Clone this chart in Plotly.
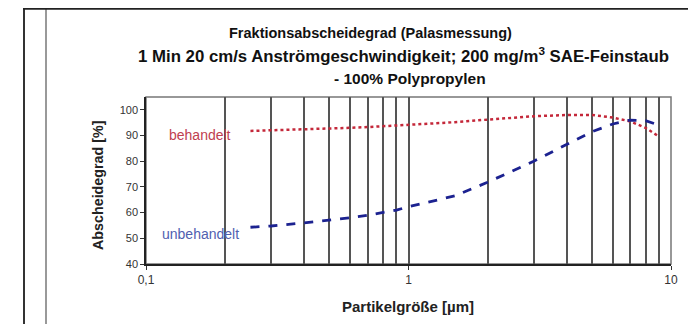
import plotly.graph_objects as go

# Data
particle_size = [0.25, 0.3, 0.4, 0.5, 0.6, 0.7, 0.8, 0.9, 1, 1.5, 2, 3, 4, 5, 6, 7, 8, 9]
behandelt = [91.8, 92.0, 92.4, 92.7, 93.0, 93.3, 93.6, 93.9, 94.2, 95.2, 96.2, 97.5, 98.0, 98.0, 97.0, 95.5, 93.0, 89.6]
unbehandelt = [54.3, 54.8, 56.0, 57.0, 58.0, 59.0, 60.0, 61.0, 62.3, 66.5, 71.8, 80.0, 86.5, 91.5, 94.5, 96.0, 95.8, 94.0]
x_tick_vals = [0.1, 1, 10]
x_tick_text = ["0,1", "1", "10"]
x_grid_vals = [0.2, 0.3, 0.4, 0.5, 0.6, 0.7, 0.8, 0.9, 2, 3, 4, 5, 6, 7, 8, 9]
y_tick_vals = [40, 50, 60, 70, 80, 90, 100]

# page has an 8px body margin; work in page pixel coords and convert
OFF = 8
W, H = 696 - OFF, 324 - OFF
L, R, T, B = 146 - OFF, 696 - 671, 97 - OFF, 324 - 264
PW, PH = W - L - R, H - T - B

def px(x):
    return (x - OFF - L) / PW

def py(y):
    return (H - B - (y - OFF)) / PH

FONT = "Liberation Sans, Arial, sans-serif"

fig = go.Figure()
fig.add_trace(go.Scatter(x=particle_size, y=behandelt, mode="lines",
                         line=dict(color="#c4283a", width=2.5, dash="dot"),
                         showlegend=False))
fig.add_trace(go.Scatter(x=particle_size, y=unbehandelt, mode="lines",
                         line=dict(color="#1c2290", width=2.8, dash="dash"),
                         showlegend=False))

fig.update_layout(
    width=W, height=H,
    margin=dict(l=L, r=R, t=T, b=B, autoexpand=False),
    paper_bgcolor="white", plot_bgcolor="white",
    font=dict(family=FONT, color="#222"),
    xaxis=dict(type="log", range=[-1, 1], tickvals=x_tick_vals, ticktext=x_tick_text,
               automargin=False,
               showgrid=True, gridcolor="#555", gridwidth=1.5,
               ticks="outside", ticklen=4, tickcolor="#333",
               showline=True, linecolor="#222", linewidth=1.5,
               tickfont=dict(size=12, color="#333"),
               minor=dict(tickvals=x_grid_vals, showgrid=True, gridcolor="#555", gridwidth=1.5, ticks=""),
               zeroline=False),
    yaxis=dict(range=[40, 105], tickvals=y_tick_vals, showgrid=False,
               automargin=False,
               ticks="outside", ticklen=4, tickcolor="#333",
               showline=True, linecolor="#222", linewidth=1.5,
               tickfont=dict(size=11, color="#333"),
               zeroline=False),
)

shapes = [
    # plot area border (top/right gray)
    dict(type="rect", xref="paper", yref="paper", x0=0, x1=1, y0=0, y1=1,
         line=dict(color="#777", width=1.5), layer="below"),
    # outer frame lines
    dict(type="line", xref="paper", yref="paper", x0=px(24), x1=px(24), y0=py(8), y1=py(324),
         line=dict(color="#333", width=2)),
    dict(type="line", xref="paper", yref="paper", x0=px(46), x1=px(46), y0=py(8), y1=py(324),
         line=dict(color="#999", width=2)),
    dict(type="line", xref="paper", yref="paper", x0=px(23), x1=px(696), y0=py(8.5), y1=py(8.5),
         line=dict(color="#222", width=2.5)),
]
fig.update_layout(shapes=shapes)

title_lines = [
    ("Fraktionsabscheidegrad (Palasmessung)", 370, 33, 14.5),
    ("1 Min 20 cm/s Anströmgeschwindigkeit; 200 mg/m<sup>3</sup> SAE-Feinstaub", 403, 55, 16.8),
    ("- 100% Polypropylen", 410, 78, 15.5),
]
for text, cx, cy, fs in title_lines:
    fig.add_annotation(text="<b>" + text + "</b>", xref="paper", yref="paper",
                       x=px(cx), y=py(cy), showarrow=False, xanchor="center", yanchor="middle",
                       font=dict(size=fs, color="#111", family=FONT))

# axis titles
fig.add_annotation(text="<b>Partikelgröße [µm]</b>", xref="paper", yref="paper",
                   x=px(408), y=py(306), showarrow=False, xanchor="center", yanchor="middle",
                   font=dict(size=15, color="#222", family=FONT))
fig.add_annotation(text="<b>Abscheidegrad [%]</b>", xref="paper", yref="paper",
                   x=px(98), y=py(185), showarrow=False, xanchor="center", yanchor="middle",
                   textangle=-90, font=dict(size=14.3, color="#222", family=FONT))

fig.add_annotation(text="behandelt", xref="paper", yref="paper", x=px(200), y=py(135),
                   showarrow=False, xanchor="center", yanchor="middle",
                   font=dict(size=14, color="#c04050", family=FONT))
fig.add_annotation(text="unbehandelt", xref="paper", yref="paper", x=px(200), y=py(234),
                   showarrow=False, xanchor="center", yanchor="middle",
                   font=dict(size=14, color="#5060b0", family=FONT))

fig.write_html("out.html")
